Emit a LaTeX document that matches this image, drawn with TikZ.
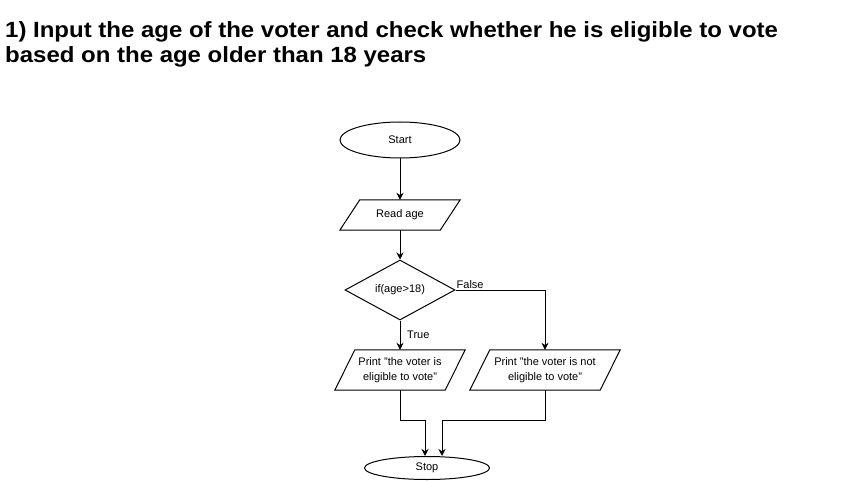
\documentclass[tikz,border=0pt]{standalone}
\usepackage{fontspec}
\setmainfont{Liberation Sans}
\usetikzlibrary{arrows.meta,shapes.geometric,calc}
\begin{document}
\begin{tikzpicture}[x=1pt,y=-1pt,
  txt/.style={font=\fontsize{11}{15}\selectfont},
  term/.style={ellipse, draw, line width=1pt, inner sep=0, txt},
  iobox/.style={rectangle, inner sep=0, align=center, txt},
  decbox/.style={diamond, draw, line width=1pt, inner sep=0, aspect=1.83, txt},
  para/.style={line width=1pt, line join=miter},
  arr/.style={-{Stealth[length=7pt,width=7pt]}, line width=1pt},
  lbl/.style={inner sep=1pt, txt},
  ttl/.style={anchor=base west, inner sep=0, font=\bfseries\fontsize{22}{25}\selectfont}
]
\useasboundingbox (0,0) rectangle (851,481);

\node[ttl] (t1) at (5,38) {\scalebox{1.09}[1]{1) Input the age of the voter and check whether he is eligible to vote}};
\node[ttl] (t2) at (5,63) {\scalebox{1.09}[1]{based on the age older than 18 years}};

\node[term, minimum width=120, minimum height=36] (start) at (400,140) {Start};
\node[iobox, minimum width=100, minimum height=30] (read) at (400,215) {Read age};
\node[decbox, minimum width=110, minimum height=60] (dec) at (400,290) {if(age>18)};
\node[iobox, minimum width=110, minimum height=40] (p1) at (400,370) {Print "the voter is\\eligible to vote"};
\node[iobox, minimum width=130, minimum height=40] (p2) at (545,370) {Print "the voter is not\\eligible to vote"};
\node[term, minimum width=125, minimum height=23] (stop) at (427,468) {Stop};

\foreach \n in {read,p1,p2}
  \draw[para] ($(\n.south west)+(-10,0)$) -- ($(\n.north west)+(10,0)$) -- ($(\n.north east)+(10,0)$) -- ($(\n.south east)+(-10,0)$) -- cycle;

\node[lbl, anchor=south west] (lf) at (dec.east) {False};
\node[lbl, anchor=west] (lt) at ($(dec.south)+(6,14)$) {True};

\coordinate (j1) at (425,420);
\coordinate (j2) at (442,420);

\draw[arr] (start.south) -- (read.north);
\draw[arr] (read.south) -- (dec.north);
\draw[arr] (dec.south) -- (p1.north);
\draw[arr] (dec.east) -| (p2.north);
\draw[arr] (p1.south) |- (j1) -- (j1 |- stop.north);
\draw[arr] (p2.south) |- (j2) -- (j2 |- stop.north);
\end{tikzpicture}
\end{document}
